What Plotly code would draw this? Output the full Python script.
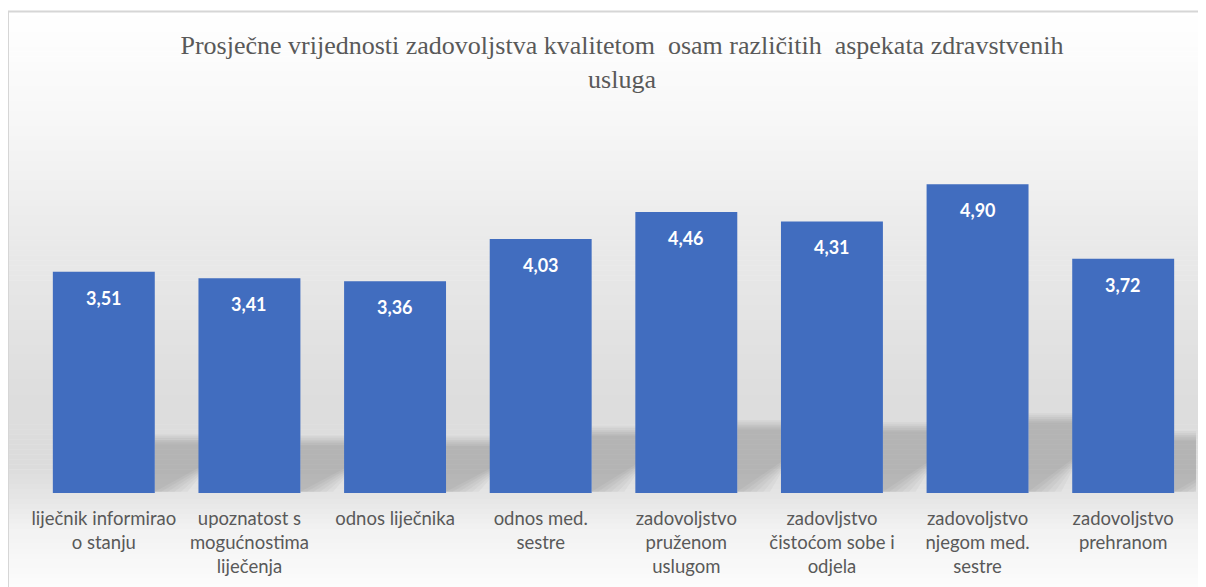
import numpy as np
import plotly.graph_objects as go

# ---- data ----
categories = [
    "liječnik informirao<br>o stanju",
    "upoznatost s<br>mogućnostima<br>liječenja",
    "odnos liječnika",
    "odnos med.<br>sestre",
    "zadovoljstvo<br>pruženom<br>uslugom",
    "zadovljstvo<br>čistoćom sobe i<br>odjela",
    "zadovoljstvo<br>njegom med.<br>sestre",
    "zadovoljstvo<br>prehranom",
]
values = [3.51, 3.41, 3.36, 4.03, 4.46, 4.31, 4.90, 3.72]
title_text = "Prosječne vrijednosti zadovoljstva kvalitetom  osam različitih  aspekata zdravstvenih<br>usluga"

# ---- layout geometry (figure pixels; page adds an 8px body margin) ----
OFF = 8
W, H = 1198, 579
L, R, T, B = 23, 10, 107, 92
PW, PH = W - L - R, H - T - B


def px_x(sx):
    """screen x -> paper x"""
    return (sx - OFF - L) / PW


def px_y(sy):
    """screen y -> paper y"""
    return (H - B - (sy - OFF)) / PH


shapes = []
# background gradient (style)
stops_y = [11, 120, 250, 400, 470, 495, 530, 590]
stops_g = [255, 247, 233, 221, 220, 228, 242, 252]
edges = np.arange(11, 592, 5)
for y0, y1 in zip(edges[:-1], edges[1:]):
    g = int(round(np.interp((y0 + y1) / 2, stops_y, stops_g)))
    shapes.append(dict(type="rect", xref="paper", yref="paper", layer="below",
                       x0=px_x(8), x1=px_x(1200), y0=px_y(y1 + 0.5), y1=px_y(y0),
                       fillcolor=f"rgb({g},{g},{g})", line=dict(width=0)))
# chart frame
shapes.append(dict(type="rect", xref="paper", yref="paper", layer="below",
                   x0=px_x(8), x1=px_x(1201), y0=px_y(600), y1=px_y(11),
                   fillcolor="rgba(0,0,0,0)", line=dict(color="#d6d6d6", width=2)))

# soft bar shadows, derived from the values
for i, v in enumerate(values):
    for grow in [0.09, 0.06, 0.03, 0.0, -0.03, -0.06]:
        top = 0.24 * v + grow
        path = (f"M {i + 0.35},{0.02} L {i + 0.35},{top} L {i + 0.66},{top} "
                f"L {i + 0.66},{0.10 * v - grow} L {i + 0.44 + 1.5 * grow},{0.02} Z")
        shapes.append(dict(type="path", xref="x", yref="y", layer="below", path=path,
                           fillcolor="rgba(0,0,0,0.032)", line=dict(width=0)))

fig = go.Figure()
fig.add_trace(go.Bar(
    x=list(range(len(categories))), y=values,
    marker=dict(color="#416dbf", line=dict(width=0)),
    hoverinfo="skip",
))

annotations = []
for i, v in enumerate(values):
    annotations.append(dict(x=i, y=v, xref="x", yref="y", text=f"{v:.2f}".replace(".", ","),
                            showarrow=False, yshift=-26, yanchor="middle",
                            font=dict(family="Lato", size=18, color="white", weight="bold")))

fig.update_layout(
    width=W, height=H,
    margin=dict(l=L, r=R, t=T, b=B, pad=0),
    paper_bgcolor="white",
    plot_bgcolor="rgba(0,0,0,0)",
    bargap=0.3,
    showlegend=False,
    separators=",.",
    title=dict(text=title_text, x=(622 - OFF) / W, xanchor="center", xref="container",
               y=1 - (54 - OFF) / H, yanchor="middle", yref="container",
               font=dict(family="Liberation Serif", size=26, color="#595959")),
    xaxis=dict(tickmode="array", tickvals=list(range(len(categories))), ticktext=categories,
               range=[-0.5, len(categories) - 0.5],
               showgrid=False, zeroline=False, showline=False, ticks="",
               tickfont=dict(family="Lato", size=18.5, color="#595959"),
               ticklabelstandoff=12),
    yaxis=dict(range=[0, 6], visible=False, showgrid=False, zeroline=False),
    shapes=shapes,
    annotations=annotations,
)

fig.write_html("out.html")
